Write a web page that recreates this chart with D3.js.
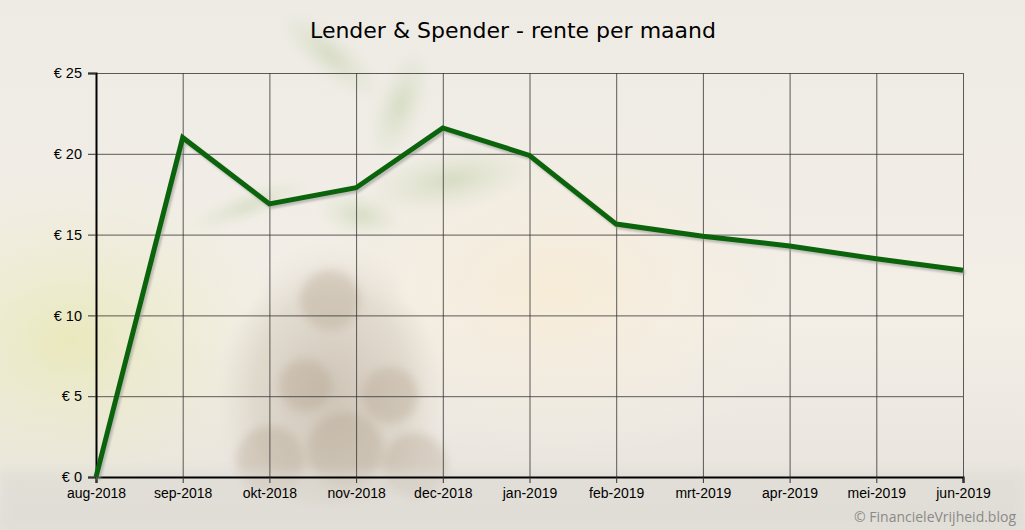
<!DOCTYPE html>
<html>
<head>
<meta charset="utf-8">
<script src="https://cdn.jsdelivr.net/npm/d3@7"></script>
<style>
  body { margin: 0; background: #efece6; }
  svg { display: block; }
</style>
</head>
<body>
<div id="chart"></div>
<script>
var months = ["aug-2018", "sep-2018", "okt-2018", "nov-2018", "dec-2018", "jan-2019",
              "feb-2019", "mrt-2019", "apr-2019", "mei-2019", "jun-2019"];
var rente = [0, 21.0, 16.9, 17.9, 21.6, 19.9, 15.65, 14.9, 14.3, 13.5, 12.8];
var yTicks = [0, 5, 10, 15, 20, 25];

var width = 1025, height = 530;
var margin = {top: 73, right: 62, bottom: 53, left: 96};

var svg = d3.select("#chart")
    .append("svg")
    .attr("width", width)
    .attr("height", height);

var defs = svg.append("defs");

// background photo, faked with gradients
var bg = defs.append("linearGradient").attr("id", "bgGrad")
    .attr("x1", 0).attr("y1", 0).attr("x2", 0).attr("y2", 1);
bg.append("stop").attr("offset", "0%").attr("stop-color", "#eeebe5");
bg.append("stop").attr("offset", "60%").attr("stop-color", "#f3efe7");
bg.append("stop").attr("offset", "85%").attr("stop-color", "#ebe7e0");
bg.append("stop").attr("offset", "100%").attr("stop-color", "#e4e2dc");

var greenGlow = defs.append("radialGradient").attr("id", "greenGlow");
greenGlow.append("stop").attr("offset", "0%").attr("stop-color", "#e8e8b8").attr("stop-opacity", 0.9);
greenGlow.append("stop").attr("offset", "100%").attr("stop-color", "#ecebd0").attr("stop-opacity", 0);

var warmGlow = defs.append("radialGradient").attr("id", "warmGlow");
warmGlow.append("stop").attr("offset", "0%").attr("stop-color", "#f8ecd6").attr("stop-opacity", 0.9);
warmGlow.append("stop").attr("offset", "100%").attr("stop-color", "#f4ece0").attr("stop-opacity", 0);

var jarGrad = defs.append("radialGradient").attr("id", "jarGrad")
    .attr("cx", "50%").attr("cy", "60%").attr("r", "55%");
jarGrad.append("stop").attr("offset", "0%").attr("stop-color", "#b8ab98").attr("stop-opacity", 0.6);
jarGrad.append("stop").attr("offset", "65%").attr("stop-color", "#cdc3b4").attr("stop-opacity", 0.45);
jarGrad.append("stop").attr("offset", "100%").attr("stop-color", "#e3ddd2").attr("stop-opacity", 0);

var leafGrad = defs.append("radialGradient").attr("id", "leafGrad");
leafGrad.append("stop").attr("offset", "0%").attr("stop-color", "#c9d4b3").attr("stop-opacity", 0.75);
leafGrad.append("stop").attr("offset", "100%").attr("stop-color", "#dfe3cf").attr("stop-opacity", 0.15);

var blur = defs.append("filter").attr("id", "soft")
    .attr("x", "-30%").attr("y", "-30%").attr("width", "160%").attr("height", "160%");
blur.append("feGaussianBlur").attr("stdDeviation", 5);

var shadow = defs.append("filter").attr("id", "lineShadow")
    .attr("x", "-5%").attr("y", "-5%").attr("width", "110%").attr("height", "110%");
shadow.append("feGaussianBlur").attr("stdDeviation", 1);

svg.append("rect").attr("width", width).attr("height", height).attr("fill", "url(#bgGrad)");

var photo = svg.append("g");
photo.append("ellipse").attr("cx", 70).attr("cy", 340).attr("rx", 220).attr("ry", 170)
    .attr("fill", "url(#greenGlow)");
photo.append("ellipse").attr("cx", 560).attr("cy", 290).attr("rx", 260).attr("ry", 170)
    .attr("fill", "url(#warmGlow)");
// jar body and neck
photo.append("path")
    .attr("d", "M265,235 Q330,215 395,235 L400,300 Q445,330 440,420 Q440,500 330,505 Q220,500 222,420 Q220,330 262,300 Z")
    .attr("fill", "url(#jarGrad)").attr("filter", "url(#soft)");
// coins
var coins = [[270, 460, 34], [345, 450, 38], [415, 465, 32], [305, 385, 26], [390, 395, 28], [330, 300, 30]];
photo.selectAll(".coin").data(coins).enter().append("circle")
    .attr("cx", function(d) { return d[0]; })
    .attr("cy", function(d) { return d[1]; })
    .attr("r", function(d) { return d[2]; })
    .attr("fill", "#a8957d").attr("opacity", 0.28).attr("filter", "url(#soft)");
// leaves
var leaves = [[330, 55, 60, 20, 40], [400, 105, 22, 55, 20], [450, 180, 80, 28, -10],
              [250, 205, 60, 12, -20], [360, 215, 40, 20, 10]];
photo.selectAll(".leaf").data(leaves).enter().append("ellipse")
    .attr("cx", 0).attr("cy", 0)
    .attr("rx", function(d) { return d[2]; })
    .attr("ry", function(d) { return d[3]; })
    .attr("transform", function(d) { return "translate(" + d[0] + "," + d[1] + ") rotate(" + d[4] + ")"; })
    .attr("fill", "url(#leafGrad)").attr("filter", "url(#soft)");
// table surface
photo.append("rect").attr("x", 0).attr("y", 470).attr("width", width).attr("height", 60)
    .attr("fill", "#dcd9d2").attr("opacity", 0.5).attr("filter", "url(#soft)");

var x = d3.scalePoint()
    .domain(months)
    .range([margin.left, width - margin.right]);

var y = d3.scaleLinear()
    .domain([0, 25])
    .range([height - margin.bottom, margin.top]);

// grid
svg.append("g")
    .attr("transform", "translate(0," + (height - margin.bottom) + ")")
    .call(d3.axisBottom(x).tickSize(-(height - margin.top - margin.bottom)).tickFormat(""))
    .call(function(g) { g.select(".domain").remove(); })
    .selectAll("line").attr("stroke", "#333").attr("stroke-width", 0.8);

svg.append("g")
    .attr("transform", "translate(" + margin.left + ",0)")
    .call(d3.axisLeft(y).tickValues(yTicks).tickSize(-(width - margin.left - margin.right)).tickFormat(""))
    .call(function(g) { g.select(".domain").remove(); })
    .selectAll("line").attr("stroke", "#333").attr("stroke-width", 0.8);

// axes
var yAxis = svg.append("g")
    .attr("transform", "translate(" + margin.left + ",0)")
    .call(d3.axisLeft(y).tickValues(yTicks).tickSize(8).tickPadding(6)
        .tickFormat(function(d) { return "€ " + d; }));
yAxis.select(".domain").attr("stroke", "#000").attr("stroke-width", 2);
yAxis.selectAll("line").attr("stroke", "#333");
yAxis.selectAll("text").attr("font-family", "Liberation Sans, Arial, sans-serif")
    .attr("font-size", 14.5).attr("fill", "#000");

var xAxis = svg.append("g")
    .attr("transform", "translate(0," + (height - margin.bottom) + ")")
    .call(d3.axisBottom(x).tickSize(6).tickPadding(5));
xAxis.select(".domain").attr("stroke", "#000").attr("stroke-width", 2.2);
xAxis.selectAll("line").attr("stroke", "#333");
xAxis.selectAll("text").attr("font-family", "Liberation Sans, Arial, sans-serif")
    .attr("font-size", 14).attr("fill", "#000");

// line + shadow
var line = d3.line()
    .x(function(d, i) { return x(months[i]); })
    .y(function(d) { return y(d); });

svg.append("path")
    .datum(rente)
    .attr("d", line)
    .attr("transform", "translate(2,2.5)")
    .attr("fill", "none")
    .attr("stroke", "#9a9a96")
    .attr("stroke-opacity", 0.6)
    .attr("stroke-width", 5)
    .attr("filter", "url(#lineShadow)");

svg.append("path")
    .datum(rente)
    .attr("d", line)
    .attr("fill", "none")
    .attr("stroke", "#0b640b")
    .attr("stroke-width", 5)
    .attr("stroke-linejoin", "miter");

// title
svg.append("text")
    .attr("x", 513)
    .attr("y", 38)
    .attr("text-anchor", "middle")
    .attr("font-family", "DejaVu Sans, sans-serif")
    .attr("font-size", 22)
    .attr("fill", "#000")
    .text("Lender & Spender - rente per maand");

// watermark
svg.append("text")
    .attr("x", 1016)
    .attr("y", 522)
    .attr("text-anchor", "end")
    .attr("font-family", "Open Sans, sans-serif")
    .attr("font-size", 14)
    .attr("fill", "#8a8a88")
    .text("© FinancieleVrijheid.blog");
</script>
</body>
</html>
